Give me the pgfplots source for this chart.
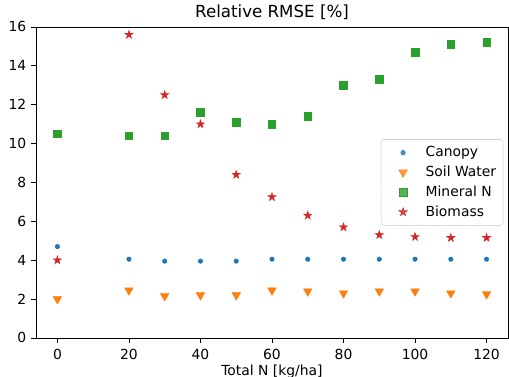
\documentclass[border=0pt]{standalone}
\usepackage{fontspec}
\setmainfont{DejaVu Sans}
\usepackage{pgfplots}
\pgfplotsset{compat=1.18}
\usetikzlibrary{plotmarks}
\definecolor{c0}{HTML}{1F77B4}
\definecolor{c1}{HTML}{FF7F0E}
\definecolor{c2}{HTML}{2CA02C}
\definecolor{c3}{HTML}{D62728}
\pgfdeclareplotmark{fstar}{%
  \pgfpathmoveto{\pgfpointpolar{90}{\pgfplotmarksize}}%
  \pgfpathlineto{\pgfpointpolar{126}{0.382\pgfplotmarksize}}%
  \pgfpathlineto{\pgfpointpolar{162}{\pgfplotmarksize}}%
  \pgfpathlineto{\pgfpointpolar{198}{0.382\pgfplotmarksize}}%
  \pgfpathlineto{\pgfpointpolar{234}{\pgfplotmarksize}}%
  \pgfpathlineto{\pgfpointpolar{270}{0.382\pgfplotmarksize}}%
  \pgfpathlineto{\pgfpointpolar{306}{\pgfplotmarksize}}%
  \pgfpathlineto{\pgfpointpolar{342}{0.382\pgfplotmarksize}}%
  \pgfpathlineto{\pgfpointpolar{18}{\pgfplotmarksize}}%
  \pgfpathlineto{\pgfpointpolar{54}{0.382\pgfplotmarksize}}%
  \pgfpathclose
  \pgfusepathqfillstroke}
\begin{document}
\begin{tikzpicture}
\begin{axis}[
  scale only axis, width=340pt, height=224pt,
  xmin=-6, xmax=126, ymin=0, ymax=16,
  xtick={0,20,...,120}, ytick={0,2,...,16},
  tick align=outside, tick pos=left, major tick length=3.5pt,
  every tick/.style={black, line width=0.6pt},
  axis line style={line width=0.6pt},
  /pgf/number format/assume math mode=true,
  ticklabel style={font=\fontsize{10}{12}\selectfont},
  xticklabel style={yshift=-1pt},
  title={Relative RMSE [\%]},
  title style={font=\fontsize{12}{14}\selectfont, yshift=-4.5pt},
  xlabel={Total N [kg/ha]},
  xlabel style={font=\fontsize{10}{12}\selectfont, yshift=3pt},
  legend style={at={(rel axis cs:0.99,0.5)}, anchor=east, draw=black!20,
    rounded corners=2pt, fill=white, fill opacity=0.8, text opacity=1,
    font=\fontsize{10}{12}\selectfont, row sep=1.2pt, inner sep=3pt},
  legend cell align=left,
  legend image code/.code={\draw[#1, only marks] plot coordinates {(0.45cm,0cm)}; \path[draw=none,fill=none] (0cm,0cm) (0.95cm,0cm);},
]
\addplot[only marks, mark=*, mark size=1.6pt, color=c0] coordinates {
(0,4.7) (20,4.05) (30,3.95) (40,3.95) (50,3.95) (60,4.05) (70,4.05) (80,4.05) (90,4.05) (100,4.05) (110,4.05) (120,4.05)};
\addlegendentry{Canopy}
\addplot[only marks, mark=triangle*, mark size=3.5pt, mark options={rotate=180}, color=c1] coordinates {
(0,2.0) (20,2.45) (30,2.15) (40,2.2) (50,2.2) (60,2.45) (70,2.4) (80,2.3) (90,2.4) (100,2.4) (110,2.3) (120,2.25)};
\addlegendentry{Soil Water}
\addplot[only marks, mark=square*, mark size=2.7pt, color=c2] coordinates {
(0,10.5) (20,10.4) (30,10.4) (40,11.6) (50,11.1) (60,11.0) (70,11.4) (80,13.0) (90,13.3) (100,14.7) (110,15.1) (120,15.2)};
\addlegendentry{Mineral N}
\addplot[only marks, mark=fstar, mark size=2.9pt, color=c3, mark options={fill=c3, line width=0.5pt}] coordinates {
(0,4.0) (20,15.6) (30,12.5) (40,11.0) (50,8.4) (60,7.25) (70,6.3) (80,5.7) (90,5.3) (100,5.2) (110,5.15) (120,5.15)};
\addlegendentry{Biomass}
\end{axis}
\pgfresetboundingbox
\path ([shift={(-25.9pt,-28.1pt)}]current axis.south west) rectangle ([shift={(0.7pt,19.4pt)}]current axis.north east);
\end{tikzpicture}
\end{document}
